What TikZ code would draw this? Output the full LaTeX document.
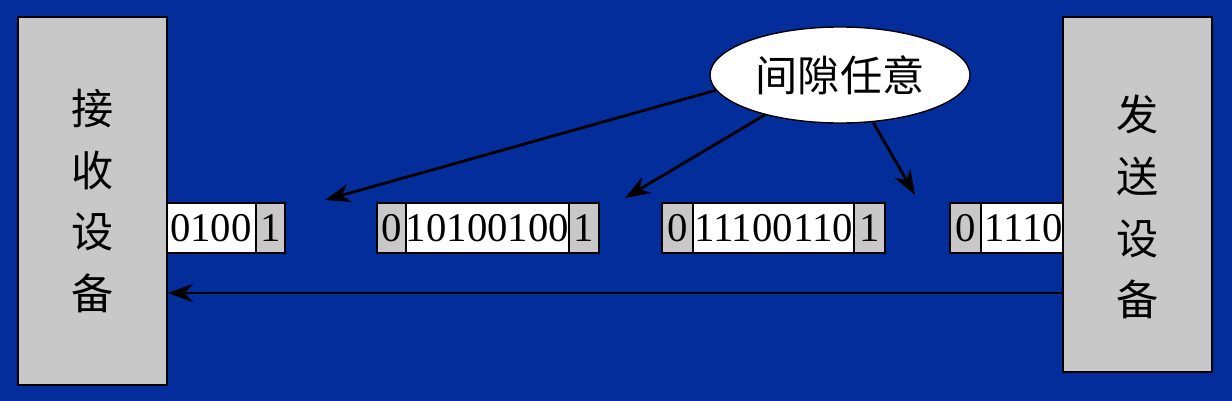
\documentclass[tikz,border=0pt]{standalone}
\usepackage{fontspec}
\setmainfont{Liberation Serif}
\newfontfamily\cjk{Noto Sans CJK SC}
\usetikzlibrary{arrows.meta,shapes.geometric}
\definecolor{bg}{RGB}{2,45,155}
\definecolor{cell}{RGB}{200,200,200}
\begin{document}
\begin{tikzpicture}[x=0.025cm,y=-0.025cm,
  dev/.style={draw=black,fill=cell,line width=1pt},
  devtxt/.style={font=\cjk\fontsize{30}{44}\selectfont,align=center},
  gc/.style={draw=black,fill=cell,line width=1pt},
  wc/.style={draw=black,fill=white,line width=1pt},
  bit/.style={font=\fontsize{29}{29}\selectfont,inner sep=0pt},
  arr/.style={-{Stealth[length=18pt,width=13pt]},line width=2pt,black}]
\fill[bg] (0,0) rectangle (1232,401);
\useasboundingbox (0,0) rectangle (1232,401);
% frame 1
\draw[wc] (120,203) rectangle (256,253);
\node[bit,anchor=east] (f1) at (252,228) {0100100};
\draw[gc] (256,203) rectangle (285,253); \node[bit] (f1e) at (270.5,228) {1};
% frame 2
\draw[gc] (377,203) rectangle (406,253); \node[bit] (f2s) at (391.5,228) {0};
\draw[wc] (406,203) rectangle (569,253); \node[bit] (f2) at (487.5,228) {10100100};
\draw[gc] (569,203) rectangle (599,253); \node[bit] (f2e) at (584,228) {1};
% frame 3
\draw[gc] (662,203) rectangle (693,253); \node[bit] (f3s) at (677.5,228) {0};
\draw[wc] (693,203) rectangle (854,253); \node[bit] (f3) at (773.5,228) {11100110};
\draw[gc] (854,203) rectangle (885,253); \node[bit] (f3e) at (869.5,228) {1};
% frame 4
\draw[gc] (950,203) rectangle (981,253); \node[bit] (f4s) at (965.5,228) {0};
\draw[wc] (981,203) rectangle (1100,253);
\node[bit,anchor=west] (f4) at (984,228) {1110};
% devices
\node[dev,minimum width=3.725cm,minimum height=9.2cm] (rx) at (92.5,201) {};
\node[devtxt] at (rx.center) {接\\收\\设\\备};
\node[dev,minimum width=3.725cm,minimum height=8.875cm] (tx) at (1137.5,194.5) {};
\node[devtxt] at (1137.5,207) {发\\送\\设\\备};
\draw[arr] (tx.west |- 0,293) -- (rx.east |- 0,293);
% ellipse
\node[draw=black,fill=white,ellipse,line width=1pt,minimum width=6.5cm,minimum height=2.4cm,font=\cjk\fontsize{30}{30}\selectfont] (gap) at (840,75) {间隙任意};
\coordinate (t1) at (325,200);
\coordinate (t2) at (625,198);
\coordinate (t3) at (915,195);
\draw[arr] (gap.187) -- (t1);
\draw[arr] (gap.208) -- (t2);
\draw[arr] (gap.305) -- (t3);
\end{tikzpicture}
\end{document}
